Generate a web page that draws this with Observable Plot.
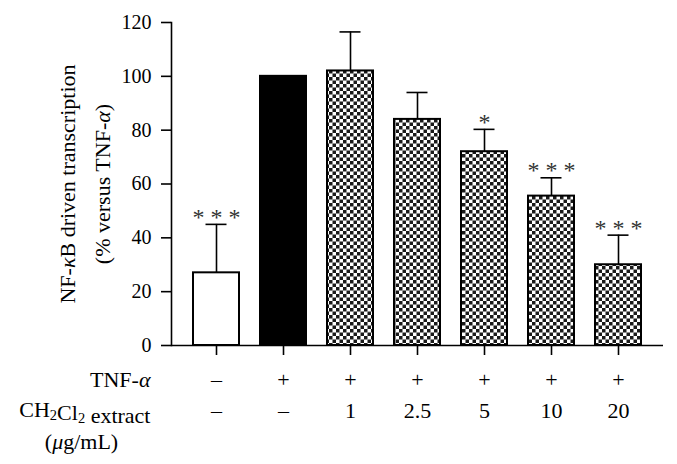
<!DOCTYPE html>
<html><head><meta charset="utf-8">
<script src="https://cdn.jsdelivr.net/npm/d3@7"></script>
<script src="https://cdn.jsdelivr.net/npm/@observablehq/plot@0.6"></script>
<style>body{margin:0;background:#fff} #chart svg{font-family:"Liberation Serif",serif}</style>
</head><body><div id="chart"></div>
<script>
const groups = ["g1","g2","g3","g4","g5","g6","g7"];
const tnfRow = ["–","+","+","+","+","+","+"];
const extractRow = ["–","–","1","2.5","5","10","20"];
const means = [27, 100, 102, 84, 72, 55.5, 30];
const errTops = [45, null, 116.5, 94, 80.3, 62.3, 41];
const stars = ["* * *","","","","*","* * *","* * *"];
const yTicks = [0,20,40,60,80,100,120];
const yTitle1 = "NF-κB driven transcription";
const yTitle2 = "(% versus TNF-α)";
const rowLabels = ["TNF-α","CH2Cl2 extract","(μg/mL)"];

const data = groups.map((g,i)=>({g, tnf:tnfRow[i], ext:extractRow[i], mean:means[i], err:errTops[i], star:stars[i], idx:i}));
const withErr = data.filter(d=>d.err!=null);
const big = 22;

const plot = Plot.plot({
  width:677, height:464,
  marginLeft:171, marginRight:14, marginTop:22, marginBottom:119,
  style:{fontFamily:"Liberation Serif, serif", fontSize:"18px", color:"black", background:"white", overflow:"visible"},
  x:{domain:groups, padding:0.32, axis:null, label:null},
  y:{domain:[0,120], axis:null, label:null},
  color:{type:"identity"},
  marks:[
    Plot.barY(data,{x:"g", y:"mean", fill:d=> d.idx===0 ? "white" : d.idx===1 ? "black" : "url(#checker)", stroke:"black", strokeWidth:2}),
    Plot.ruleX(withErr,{x:"g", y1:"mean", y2:"err", stroke:"black", strokeWidth:1.6}),
    Plot.tickY(withErr,{x:"g", y:"err", insetLeft:12.5, insetRight:12.5, stroke:"black", strokeWidth:1.6}),
    Plot.text(data.filter(d=>d.star),{x:"g", y:"err", text:"star", dy:-7, lineAnchor:"middle", fontSize:24, fill:"#333"}),
    Plot.axisY({ticks:yTicks, tickSize:10, tickPadding:10, label:null, fontSize:20, strokeWidth:1.6}),
    Plot.frame({anchor:"left", strokeWidth:1.6}),
    Plot.ruleY([0],{stroke:"black", strokeWidth:1.6}),
    Plot.axisX({tickSize:10, tickFormat:()=>"", label:null, strokeWidth:1.6}),
    Plot.text(data,{x:"g", y:()=>0, dy:34, text:"tnf", fontSize:big, lineAnchor:"middle"}),
    Plot.text(data,{x:"g", y:()=>0, dy:65, text:"ext", fontSize:big, lineAnchor:"middle"}),
    Plot.text([rowLabels[0]],{frameAnchor:"bottom-left", dx:-21, dy:34, textAnchor:"end", lineAnchor:"middle", fontSize:big}),
    Plot.text([rowLabels[1]],{frameAnchor:"bottom-left", dx:-21, dy:64, textAnchor:"end", lineAnchor:"middle", fontSize:big}),
    Plot.text([rowLabels[2]],{frameAnchor:"bottom-left", dx:-90, dy:96, textAnchor:"middle", lineAnchor:"middle", fontSize:big}),
    Plot.text([yTitle1],{frameAnchor:"left", dx:-104, rotate:-90, textAnchor:"middle", lineAnchor:"middle", fontSize:big}),
    Plot.text([yTitle2],{frameAnchor:"left", dx:-69, rotate:-90, textAnchor:"middle", lineAnchor:"middle", fontSize:big})
  ]
});

// checkerboard pattern
const svg = d3.select(plot);
const defs = svg.insert("defs", ":first-child");
const pat = defs.append("pattern").attr("id","checker").attr("patternUnits","userSpaceOnUse")
  .attr("width",7).attr("height",7);
pat.append("rect").attr("width",7).attr("height",7).attr("fill","white");
pat.append("rect").attr("width",3.5).attr("height",3.5).attr("fill","#1a1a1a");
pat.append("rect").attr("x",3.5).attr("y",3.5).attr("width",3.5).attr("height",3.5).attr("fill","#1a1a1a");

// rich text: italic Greek letters, subscript digits in chemical formula
svg.selectAll("text").each(function(){
  const el = d3.select(this);
  if (this.querySelector("tspan")) return;
  const s = this.textContent;
  if (!/[ακμ]|CH2Cl2/.test(s)) return;
  this.textContent = "";
  const isSub = (j) => s.startsWith("CH2Cl2") && s[j] === "2" && (j === 2 || j === 5);
  let i = 0;
  while (i < s.length) {
    const c = s[i];
    if ("ακμ".includes(c)) {
      el.append("tspan").attr("font-style","italic").text(c); i++;
    } else if (isSub(i)) {
      el.append("tspan").attr("font-size","0.66em").attr("dy","0.22em").text("2");
      el.append("tspan").attr("dy","-0.22em").text("");
      i++;
    } else {
      let j = i;
      while (j < s.length && !"ακμ".includes(s[j]) && !isSub(j)) j++;
      el.append("tspan").text(s.slice(i,j)); i = j;
    }
  }
});

document.getElementById("chart").appendChild(plot);
</script>
</body></html>
